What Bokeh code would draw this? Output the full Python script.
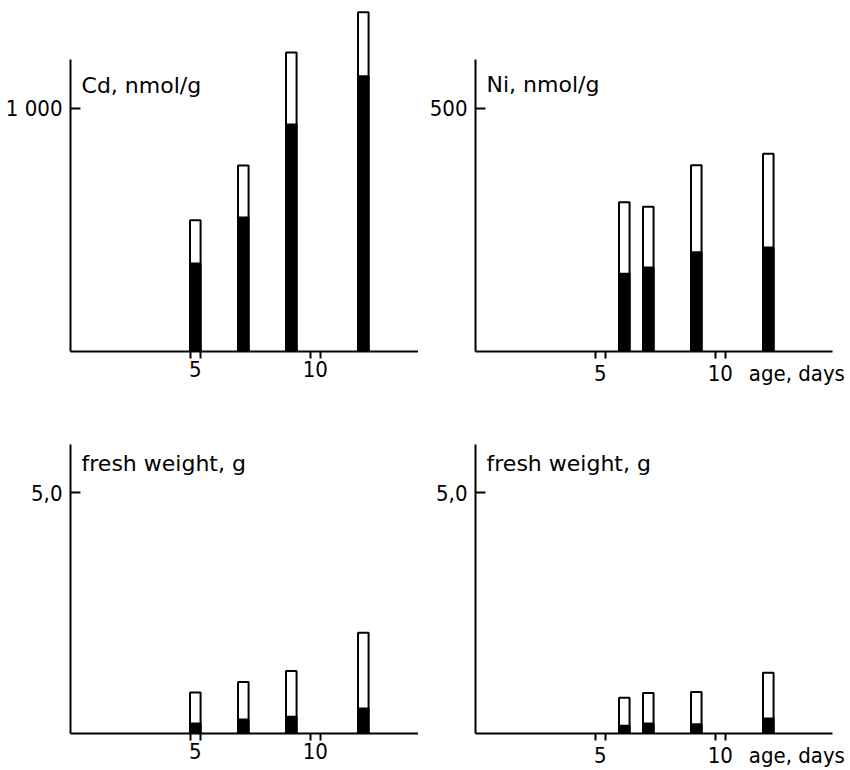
from bokeh.plotting import figure
from bokeh.layouts import column, row
from bokeh.models import FixedTicker, Label, Range1d, LinearAxis
from bokeh.embed import file_html
from bokeh.resources import INLINE

# Cd-exposed plants: metal content (total bar, dark = fraction) by age
cd_days = [5, 7, 9, 12]
cd_total = [540, 765, 1230, 1396]
cd_dark = [362, 551, 934, 1132]

# Ni-exposed plants
ni_days = [6, 7, 9, 12]
ni_total = [307, 298, 383, 407]
ni_dark = [160, 173, 204, 214]

# fresh weight of the same plants
cd_fw_total = [0.85, 1.07, 1.30, 2.09]
cd_fw_dark = [0.21, 0.29, 0.35, 0.52]
ni_fw_total = [0.74, 0.84, 0.86, 1.26]
ni_fw_dark = [0.16, 0.21, 0.19, 0.31]

x_ticks = [5, 10]
x_tick_pairs = [4.8, 5.2, 9.8, 10.2]
x_name = "age, days"
x_name_at = 13.19

LABEL_FONT = "DejaVu Sans"
TICK_FONT = "DejaVu Sans Condensed"


def panel(days, total, dark, y_end, y_tick, y_tick_text, y_bound, title, title_y,
          x_end, width, height, left, right, top, bottom, show_x_name=False):
    p = figure(width=width, height=height, output_backend="svg", toolbar_location=None,
               x_range=Range1d(-0.2, x_end), y_range=Range1d(0, y_end),
               min_border_left=left, min_border_right=right,
               min_border_top=top, min_border_bottom=bottom,
               outline_line_color=None, background_fill_color="white",
               border_fill_color="white")
    p.grid.visible = False

    # open bar = total, filled bar = dark fraction
    p.vbar(x=days, top=total, bottom=0, width=0.44, fill_color="white",
           line_color="black", line_width=2)
    p.vbar(x=days, top=dark, bottom=0, width=0.44, fill_color="black",
           line_color="black", line_width=2)

    # axis line with the paired tick strokes
    xa = p.xaxis[0]
    xa.ticker = FixedTicker(ticks=x_tick_pairs, minor_ticks=[])
    xa.major_label_overrides = {t: "" for t in x_tick_pairs}
    xa.major_label_text_font_size = "0px"
    xa.major_label_standoff = 0
    xa.axis_line_width = 2
    xa.major_tick_out = 7
    xa.major_tick_in = 0
    xa.major_tick_line_width = 2
    xa.minor_tick_out = 0
    xa.minor_tick_in = 0

    # numbers under the paired strokes (plus the axis name on the right panels)
    label_ticks = list(x_ticks)
    overrides = {}
    if show_x_name:
        label_ticks.append(x_name_at)
        overrides[x_name_at] = x_name
    xb = LinearAxis(ticker=FixedTicker(ticks=label_ticks, minor_ticks=[]),
                    major_label_overrides=overrides,
                    axis_line_color=None, major_tick_out=0, major_tick_in=0,
                    minor_tick_out=0, minor_tick_in=0, major_label_standoff=2,
                    major_label_text_font=TICK_FONT,
                    major_label_text_font_size="22px",
                    major_label_text_color="black")
    p.add_layout(xb, "below")

    ya = p.yaxis[0]
    ya.ticker = FixedTicker(ticks=[y_tick], minor_ticks=[])
    ya.major_label_overrides = {y_tick: y_tick_text}
    ya.bounds = (0, y_bound)
    ya.axis_line_width = 2
    ya.major_tick_in = 10
    ya.major_tick_out = 0
    ya.major_tick_line_width = 2
    ya.minor_tick_in = 0
    ya.minor_tick_out = 0
    ya.major_label_standoff = 8
    ya.major_label_text_font = TICK_FONT
    ya.major_label_text_font_size = "22px"
    ya.major_label_text_color = "black"

    p.add_layout(Label(x=0.26, y=title_y, text=title, text_font=LABEL_FONT,
                       text_font_size="22px", text_color="black",
                       text_baseline="alphabetic"))
    return p


p1 = panel(cd_days, cd_total, cd_dark, 1440, 1000, "1 000", 1200, "Cd, nmol/g", 1094,
           14.3, 418, 420, 70, 0, 1, 69)
p2 = panel(ni_days, ni_total, ni_dark, 720, 500, "500", 600, "Ni, nmol/g", 549,
           14.675, 432, 420, 57, 18, 1, 69, show_x_name=True)
p3 = panel(cd_days, cd_fw_total, cd_fw_dark, 6, 5, "5,0", 6, "fresh weight, g", 5.61,
           14.3, 418, 350, 70, 0, 24, 36)
p4 = panel(ni_days, ni_fw_total, ni_fw_dark, 6, 5, "5,0", 6, "fresh weight, g", 5.61,
           14.675, 432, 350, 57, 18, 24, 36, show_x_name=True)

layout = column(row(p1, p2), row(p3, p4))

with open("out.html", "w") as f:
    f.write(file_html(layout, INLINE))
